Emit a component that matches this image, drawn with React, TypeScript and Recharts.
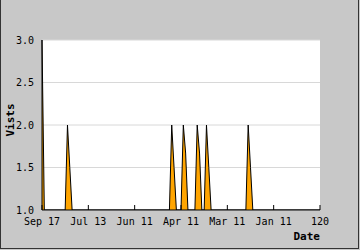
import { Area, AreaChart, CartesianGrid, XAxis, YAxis } from "recharts";

const days = [0, 1, 10, 11, 12, 13, 55, 56, 57, 58, 60, 61, 62, 63, 66, 67, 68, 69, 70, 71, 72, 73, 88, 89, 90, 91, 120];
const visits = [3, 1, 1, 2, 1.5, 1, 1, 2, 1.5, 1, 1, 2, 1.67, 1, 1, 2, 1.67, 1, 1, 2, 1.5, 1, 1, 2, 1.5, 1, 1];
const xTicks = [0, 20, 40, 60, 80, 100, 120];
const xLabels = ["Sep 17", "Jul 13", "Jun 11", "Apr 11", "Mar 11", "Jan 11", "120"];
const yTicks = [1, 1.5, 2, 2.5, 3];

const data = days.map((d, i) => ({ day: d, visits: visits[i] }));

const font = "'DejaVu Sans Mono', monospace";

export default function App() {
  return (
    <div style={{ position: "fixed", left: 0, top: 0, width: 360, height: 250, background: "#c8c8c8" }}>
      <div
        style={{
          position: "absolute",
          left: 0,
          top: 0,
          width: 359,
          height: 249,
          boxSizing: "border-box",
          borderLeft: "1px solid #333",
          borderRight: "1px solid #333",
          borderBottom: "1px solid #333",
        }}
      />
      <AreaChart
        width={360}
        height={250}
        data={data}
        margin={{ top: 40, right: 40, left: 0, bottom: 0 }}
        style={{ position: "absolute", left: 0, top: 0 }}
      >
        <CartesianGrid vertical={false} stroke="#d8d8d8" fill="#ffffff" />
        <XAxis
          dataKey="day"
          type="number"
          domain={[0, 120]}
          ticks={xTicks}
          interval={0}
          height={40}
          tickSize={-5}
          tickMargin={13}
          tickFormatter={(v: number) => xLabels[xTicks.indexOf(v)]}
          axisLine={{ stroke: "#000" }}
          tickLine={{ stroke: "#000" }}
          tick={{ fill: "#000", fontSize: 10, fontFamily: font }}
          label={(props: any) => (
            <text x={320} y={240} textAnchor="end" fontFamily={font} fontSize={11} fontWeight="bold" fill="#000">
              Date
            </text>
          )}
        />
        <YAxis
          type="number"
          domain={[1, 3]}
          ticks={yTicks}
          width={42}
          allowDataOverflow
          tickLine={false}
          tickSize={0}
          tickMargin={8}
          tickFormatter={(v: number) => v.toFixed(1)}
          axisLine={{ stroke: "#000" }}
          tick={{ fill: "#000", fontSize: 10, fontFamily: font }}
          label={(props: any) => (
            <text
              x={14}
              y={120}
              textAnchor="middle"
              transform="rotate(-90 14 120)"
              fontFamily={font}
              fontSize={11}
              fontWeight="bold"
              fill="#000"
            >
              Vists
            </text>
          )}
        />
        <Area
          type="linear"
          dataKey="visits"
          stroke="#000"
          strokeWidth={1}
          fill="#ffa500"
          fillOpacity={1}
          isAnimationActive={false}
          dot={false}
          activeDot={false}
        />
      </AreaChart>
    </div>
  );
}
